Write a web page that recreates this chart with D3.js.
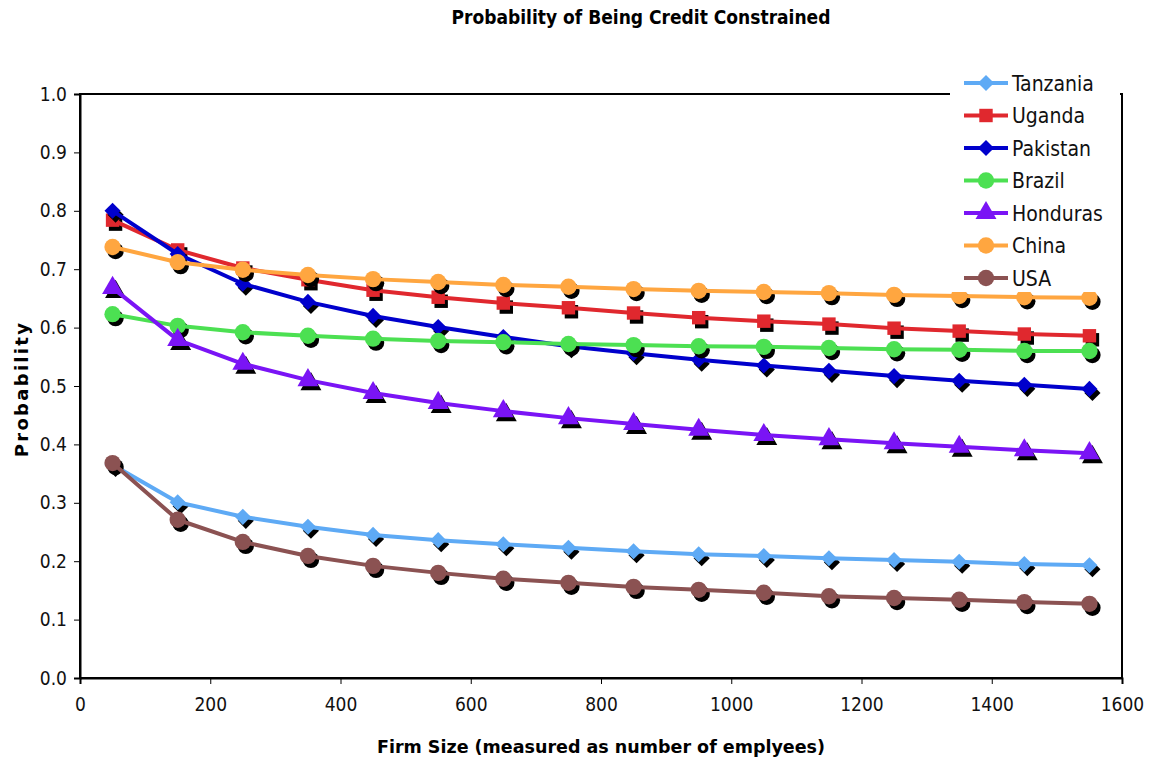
<!DOCTYPE html>
<html>
<head>
<meta charset="utf-8">
<script src="https://cdn.jsdelivr.net/npm/d3@7"></script>
<style>
  body { margin: 0; background: white; }
  text { font-family: "DejaVu Sans", Verdana, sans-serif; }
</style>
</head>
<body>
<div id="chart"></div>
<script>
// firm sizes (x) and probabilities per country
const firmSizes = [50, 150, 250, 350, 450, 550, 650, 750, 850, 950, 1050, 1150, 1250, 1350, 1450, 1550];
const tanzania = [0.365, 0.301, 0.276, 0.259, 0.245, 0.236, 0.229, 0.223, 0.217, 0.212, 0.209, 0.205, 0.202, 0.199, 0.195, 0.193];
const uganda   = [0.784, 0.733, 0.702, 0.682, 0.664, 0.652, 0.642, 0.634, 0.625, 0.617, 0.611, 0.606, 0.599, 0.594, 0.589, 0.586];
const pakistan = [0.800, 0.726, 0.675, 0.644, 0.620, 0.601, 0.584, 0.568, 0.556, 0.545, 0.535, 0.526, 0.517, 0.509, 0.502, 0.495];
const brazil   = [0.623, 0.603, 0.592, 0.586, 0.581, 0.577, 0.575, 0.572, 0.570, 0.568, 0.567, 0.565, 0.563, 0.562, 0.560, 0.560];
const honduras = [0.668, 0.579, 0.538, 0.510, 0.488, 0.471, 0.457, 0.445, 0.435, 0.425, 0.416, 0.409, 0.402, 0.396, 0.390, 0.385];
const china    = [0.738, 0.712, 0.699, 0.690, 0.683, 0.678, 0.673, 0.670, 0.666, 0.663, 0.661, 0.659, 0.656, 0.654, 0.652, 0.651];
const usa      = [0.368, 0.271, 0.233, 0.209, 0.192, 0.180, 0.170, 0.163, 0.156, 0.151, 0.146, 0.140, 0.137, 0.134, 0.130, 0.127];

const seriesNames = ["Tanzania", "Uganda", "Pakistan", "Brazil", "Honduras", "China", "USA"];
const seriesValues = [tanzania, uganda, pakistan, brazil, honduras, china, usa];
const seriesColors = ["#5EAAF5", "#E0282E", "#0000CC", "#4CE052", "#7A14F5", "#FFA640", "#8B5252"];
const seriesShapes = ["diamond", "square", "diamond", "circle", "triangle", "circle", "circle"];

const xTicks = [0, 200, 400, 600, 800, 1000, 1200, 1400, 1600];
const yTicks = [0, 0.1, 0.2, 0.3, 0.4, 0.5, 0.6, 0.7, 0.8, 0.9, 1.0];

const width = 1158, height = 765;
const margin = { top: 94, right: 36, bottom: 87, left: 80 };

function markerPath(shape) {
    if (shape === "diamond") return d3.symbol().type(d3.symbolSquare).size(130)();
    if (shape === "square") return d3.symbol().type(d3.symbolSquare).size(180)();
    if (shape === "triangle") return d3.symbol().type(d3.symbolTriangle).size(190)();
    return d3.symbol().type(d3.symbolCircle).size(210)();
}
function markerRot(shape) {
    return shape === "diamond" ? " rotate(45)" : "";
}

const svg = d3.select("#chart").append("svg")
    .attr("width", width)
    .attr("height", height)
    .style("background-color", "white");

const x = d3.scaleLinear().domain([0, 1600]).range([margin.left, width - margin.right]);
const y = d3.scaleLinear().domain([0, 1]).range([height - margin.bottom, margin.top]);

// plot frame
svg.append("rect")
    .attr("x", x(0)).attr("y", y(1))
    .attr("width", x(1600) - x(0)).attr("height", y(0) - y(1))
    .attr("fill", "none").attr("stroke", "black").attr("stroke-width", 2);

const xAxis = svg.append("g")
    .attr("transform", "translate(0," + y(0) + ")")
    .call(d3.axisBottom(x).tickValues(xTicks).tickSize(6).tickPadding(14).tickFormat(d3.format("d")));
const yAxis = svg.append("g")
    .attr("transform", "translate(" + x(0) + ",0)")
    .call(d3.axisLeft(y).tickValues(yTicks).tickSize(6).tickPadding(7).tickFormat(d3.format(".1f")));

[xAxis, yAxis].forEach(function (g) {
    g.select(".domain").attr("stroke", "black").attr("stroke-width", 2);
    g.selectAll(".tick line").attr("stroke", "black").attr("stroke-width", 1);
    g.selectAll(".tick text")
        .style("font-family", "'DejaVu Sans Condensed', 'DejaVu Sans', sans-serif")
        .style("font-size", "19px")
        .attr("fill", "#111");
});

const line = d3.line()
    .x(function (d) { return x(d[0]); })
    .y(function (d) { return y(d[1]); });

seriesValues.forEach(function (vals, i) {
    const pts = firmSizes.map(function (f, j) { return [f, vals[j]]; });
    const g = svg.append("g").attr("class", "series");
    const shape = seriesShapes[i];

    // black drop shadows of markers
    g.selectAll(".shadow")
        .data(pts).enter().append("path")
        .attr("class", "shadow")
        .attr("d", markerPath(shape))
        .attr("fill", "black")
        .attr("transform", function (d) { return "translate(" + (x(d[0]) + 3) + "," + (y(d[1]) + 4) + ")" + markerRot(shape); });

    g.append("path")
        .datum(pts)
        .attr("d", line)
        .attr("fill", "none")
        .attr("stroke", seriesColors[i])
        .attr("stroke-width", 4)
        .attr("stroke-linejoin", "round");

    g.selectAll(".marker")
        .data(pts).enter().append("path")
        .attr("class", "marker")
        .attr("d", markerPath(shape))
        .attr("fill", seriesColors[i])
        .attr("transform", function (d) { return "translate(" + x(d[0]) + "," + y(d[1]) + ")" + markerRot(shape); });
});

// legend (white box over the top right corner)
const legend = svg.append("g");
legend.append("rect")
    .attr("x", 950).attr("y", 64)
    .attr("width", 170).attr("height", 228)
    .attr("fill", "white");

seriesNames.forEach(function (name, i) {
    const ly = 83 + i * 32.5;
    legend.append("line")
        .attr("x1", 964).attr("x2", 1008)
        .attr("y1", ly).attr("y2", ly)
        .attr("stroke", seriesColors[i]).attr("stroke-width", 4);
    legend.append("path")
        .attr("d", markerPath(seriesShapes[i]))
        .attr("fill", seriesColors[i])
        .attr("transform", "translate(986," + ly + ")" + markerRot(seriesShapes[i]));
    legend.append("text")
        .attr("x", 1012).attr("y", ly)
        .attr("dy", "0.36em")
        .style("font-family", "'DejaVu Sans Condensed', 'DejaVu Sans', sans-serif")
        .style("font-size", "21px")
        .attr("fill", "#111")
        .text(name);
});

// titles
svg.append("text")
    .attr("x", 641).attr("y", 24)
    .attr("text-anchor", "middle")
    .style("font-family", "'DejaVu Sans Condensed', 'DejaVu Sans', sans-serif")
    .style("font-weight", "bold")
    .style("font-size", "19px")
    .text("Probability of Being Credit Constrained");

svg.append("text")
    .attr("x", 601).attr("y", 753)
    .attr("text-anchor", "middle")
    .style("font-weight", "bold")
    .style("font-size", "17.5px")
    .text("Firm Size (measured as number of emplyees)");

svg.append("text")
    .attr("transform", "translate(28,389) rotate(-90)")
    .attr("text-anchor", "middle")
    .style("font-weight", "bold")
    .style("font-size", "18px")
    .style("letter-spacing", "2.3px")
    .text("Probability");
</script>
</body>
</html>
